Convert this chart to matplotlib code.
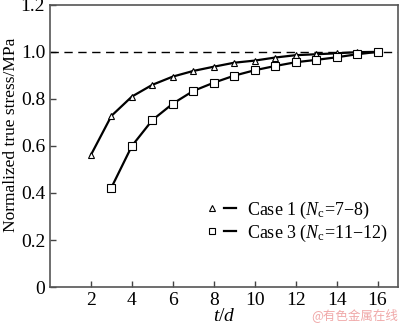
import numpy as np
import matplotlib.pyplot as plt
from matplotlib.lines import Line2D
from matplotlib.legend_handler import HandlerTuple

plt.rcParams['font.family'] = ['Liberation Serif', 'DejaVu Serif']
plt.rcParams['mathtext.fontset'] = 'custom'
plt.rcParams['mathtext.rm'] = 'Liberation Serif'
plt.rcParams['mathtext.it'] = 'Liberation Serif:italic'

# 데이터
td1 = [2, 3, 4, 5, 6, 7, 8, 9, 10, 11, 12, 13, 14, 15, 16]
case1 = [0.562, 0.728, 0.81, 0.86, 0.895, 0.919, 0.937, 0.954, 0.963,
         0.976, 0.986, 0.99, 0.994, 0.999, 1.0]
td3 = [3, 4, 5, 6, 7, 8, 9, 10, 11, 12, 13, 14, 15, 16]
case3 = [0.423, 0.60, 0.71, 0.78, 0.834, 0.869, 0.899, 0.922, 0.94,
         0.956, 0.966, 0.977, 0.99, 1.0]
xticks = [2, 4, 6, 8, 10, 12, 14, 16]
yticks = [0, 0.2, 0.4, 0.6, 0.8, 1.0, 1.2]
labels = ['Case 1 ($N_\\mathrm{c}$=7\u22128)', 'Case 3 ($N_\\mathrm{c}$=11\u221212)']

fig = plt.figure(figsize=(4, 3.24), dpi=100)
ax = fig.add_axes([0.125, 0.114, 0.87, 0.871])

ax.axhline(1.0, color='black', lw=1.0, ls=(0, (6, 4)))
ax.plot(td1, case1, color='black', lw=1.6, marker='^', ms=5,
        mfc='white', mec='black', mew=0.8)
ax.plot(td3, case3, color='black', lw=1.6, marker='s', ms=5.5,
        mfc='white', mec='black', mew=0.8)

ax.set_xlim(0, 17)
ax.set_ylim(0, 1.2)
ax.set_xticks(xticks)
ax.set_yticks(yticks)
ax.set_yticklabels(['0', '0.2', '0.4', '0.6', '0.8', '1.0', '1.2'])
ax.tick_params(direction='in', length=4, width=1, labelsize=14, color='#444444')
for s in ax.spines.values():
    s.set_color('#555555')
    s.set_linewidth(1.2)

ax.set_xlabel('$t/d$', fontsize=14, labelpad=-1)
ax.set_ylabel('Normalized true stress/MPa', fontsize=12.5)
ax.yaxis.set_label_coords(-0.088, 0.54)

# 범례: 마커 + 선
m1 = Line2D([], [], ls='none', marker='^', ms=4, mfc='white', mec='black', mew=0.8)
m3 = Line2D([], [], ls='none', marker='s', ms=4, mfc='white', mec='black', mew=0.8)
l1 = Line2D([], [], color='black', lw=1.6)
ax.legend([(m1, l1), (m3, l1)], labels, handler_map={tuple: HandlerTuple(ndivide=None, pad=0.3)},
          loc='lower right', bbox_to_anchor=(1.0, 0.115), frameon=False, fontsize=13,
          handlelength=1.65, handletextpad=0.6, labelspacing=0.1, borderaxespad=0.2)

fig.text(0.995, 0.005, '@有色金属在线', ha='right', va='bottom', fontsize=9,
         color='#f0a8a8', family=['Noto Sans CJK SC', 'DejaVu Sans'])

fig.savefig('out.png', dpi=100)
